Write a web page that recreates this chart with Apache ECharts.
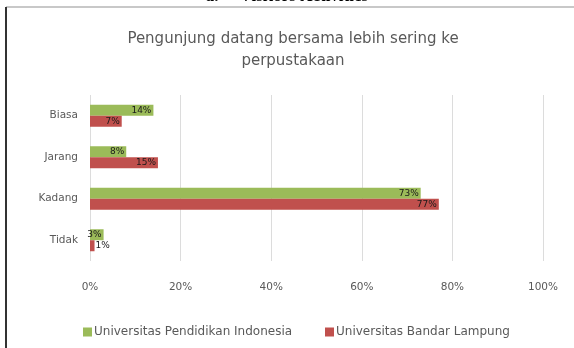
<!DOCTYPE html>
<html>
<head>
<meta charset="utf-8">
<script src="https://cdn.jsdelivr.net/npm/echarts@6/dist/echarts.min.js"></script>
<style>
  html, body { margin: 0; padding: 0; background: #fff; }
  #chart { width: 574px; height: 348px; }
</style>
</head>
<body>
<div id="chart"></div>
<script>
// Answer categories, top to bottom
const categories = ['Biasa', 'Jarang', 'Kadang', 'Tidak'];
// Share of respondents (%) per university
const upiValues = [14, 8, 73, 3];
const ublValues = [7, 15, 77, 1];
const seriesNames = ['Universitas Pendidikan Indonesia', 'Universitas Bandar Lampung'];
const tickLabels = ['0%', '20%', '40%', '60%', '80%', '100%'];

const FONT = 'DejaVu Sans';

const chart = echarts.init(document.getElementById('chart'), null, { renderer: 'canvas' });

// value labels sit inside the bar end; very short bars get them just outside
function withLabels(values) {
  return values.map(v => ({
    value: v,
    label: v < 2 ? { position: 'right', distance: 1 } : {}
  }));
}

const labelStyle = {
  show: true,
  position: 'insideRight',
  distance: 2,
  color: '#1a1a1a',
  fontSize: 9,
  fontFamily: FONT,
  formatter: p => p.value + '%'
};

const legendBase = {
  top: 321,
  itemWidth: 9,
  itemHeight: 9,
  icon: 'rect',
  itemStyle: { borderWidth: 0 },
  textStyle: { color: '#595959', fontSize: 12, fontFamily: FONT, padding: [0, 0, 0, -3] }
};

chart.setOption({
  animation: false,
  backgroundColor: '#ffffff',
  title: {
    text: 'Pengunjung datang bersama lebih sering ke\nperpustakaan',
    left: 288,
    textAlign: 'center',
    top: 23,
    textStyle: {
      color: '#595959',
      fontSize: 15,
      fontWeight: 'normal',
      fontFamily: FONT,
      lineHeight: 22
    }
  },
  graphic: [
    // figure caption, cut off at the top edge
    { type: 'text', left: 'center', top: -12, style: { text: 'a.     Visitors Activities', fill: '#000', font: 'bold 17px "Liberation Serif"' } },
    // frame lines
    { type: 'line', shape: { x1: 6, y1: 7, x2: 574, y2: 7 }, style: { stroke: '#c8c8c8', lineWidth: 2 } },
    { type: 'line', shape: { x1: 6, y1: 7, x2: 6, y2: 348 }, style: { stroke: '#333', lineWidth: 2 } }
  ],
  legend: [
    Object.assign({ data: [seriesNames[0]], left: 78 }, legendBase),
    Object.assign({ data: [seriesNames[1]], left: 320 }, legendBase)
  ],
  grid: { left: 90, right: 31, top: 95, bottom: 87 },
  xAxis: {
    type: 'value',
    min: 0,
    max: 100,
    interval: 20,
    axisLine: { show: false },
    axisTick: { show: false },
    splitLine: { show: true, lineStyle: { color: '#dcdcdc', width: 1 } },
    axisLabel: {
      margin: 21,
      color: '#595959',
      fontSize: 10.5,
      fontFamily: FONT,
      formatter: v => tickLabels[Math.round(v / 20)]
    }
  },
  yAxis: {
    type: 'category',
    data: categories,
    inverse: true,
    axisLine: { show: false },
    axisTick: { show: false },
    axisLabel: { margin: 12, color: '#595959', fontSize: 10.5, fontFamily: FONT }
  },
  series: [
    {
      name: seriesNames[0],
      type: 'bar',
      data: withLabels(upiValues),
      barWidth: 11,
      barGap: '0%',
      itemStyle: { color: '#9bbb59' },
      label: labelStyle
    },
    {
      name: seriesNames[1],
      type: 'bar',
      data: withLabels(ublValues),
      barWidth: 11,
      barGap: '0%',
      itemStyle: { color: '#c0504d' },
      label: labelStyle
    }
  ]
});
</script>
</body>
</html>
